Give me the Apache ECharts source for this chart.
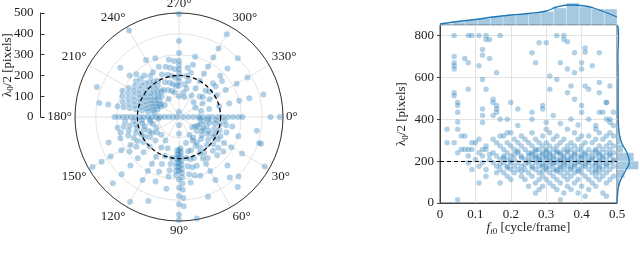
<!DOCTYPE html>
<html><head><meta charset="utf-8">
<script src="https://cdn.jsdelivr.net/npm/echarts@6/dist/echarts.min.js"></script>
<style>html,body{margin:0;padding:0;background:#fff}#c{width:640px;height:255px}</style>
</head><body><div id="c"></div>
<script>
// ---- DATA ----
const radialTicks = [0, 100, 200, 300, 400, 500];
const angleTicks = [0, 30, 60, 90, 120, 150, 180, 210, 240, 270, 300, 330];
const refRadius = 200;           // dashed reference circle / line
// polar points: [angle in degrees, radii (λ0/2)]
const polarRays = [
 [0,[20,45,70,95,115,140,160,185,210,235,260,285,305,440,485]],
 [5,[100,140,180,220]],
 [10,[120,150,175,200,230,260,380]],
 [18,[110,140,180,205,240,300,405,415]],
 [25,[100,130,160,190,220]],
 [30,[90,130,160,190,215,250,290,350,476]],
 [38,[80,110,140,178,210,240,270]],
 [45,[150,190,230,260,330,405]],
 [50,[380,439]],
 [55,[120,150,180,210,240]],
 [60,[100,130,160,200,230,260,300,350]],
 [70,[170,210,250,300,408]],
 [75,[130,170,210,250,290]],
 [80,[200,240,280,320,495]],
 [87,[150,170,190,210,230,250,270,290,320,350,390,430]],
 [90,[40,80,160,180,200,220,240,260,300,340,380,420,470,495]],
 [93,[160,180,200,220,240,260,280]],
 [100,[200,230,260,290,350]],
 [110,[160,200,240,280,330,430]],
 [120,[130,170,220,260,300,350,470]],
 [135,[120,160,200,240,280,330,390,450]],
 [145,[130,170,210,250,290]],
 [150,[150,190,230,270,320,380,430,480]],
 [155,[120,160,200,240]],
 [160,[180,220,260,300,360]],
 [165,[130,170,210,250,290]],
 [170,[140,180,210,240,270,300]],
 [175,[100,140,180,220,260]],
 [180,[10,30,50,70,90,110,130,150,170,190,210,230,250,270,290,310]],
 [190,[120,150,180,210,240,270,300,345,389]],
 [195,[130,160,190,220,250,280]],
 [200,[110,140,170,200,230,260,290,420]],
 [205,[120,150,180,210,240,270,300]],
 [210,[100,130,160,190,220,250,280]],
 [215,[110,140,170,200,230,260]],
 [220,[90,120,150,180,210,240,270,310,368]],
 [225,[140,170,200,230,260,290]],
 [230,[130,160,190,220,260]],
 [235,[150,180,210,240]],
 [240,[100,150,200,250,317,480]],
 [248,[140,180,220,260,305]],
 [255,[130,170,210,250]],
 [260,[120,160,200,240,280]],
 [265,[150,190,230,270]],
 [270,[25,100,150,170,190,210,230,250,270,308,365,495]],
 [280,[120,160,200,240]],
 [285,[100,140,180,220,260,300]],
 [300,[120,160,200,240,280,330,380,460]],
 [315,[100,140,180,230,280,330,400]],
 [320,[150,190,230,270]],
 [330,[90,130,170,210,260,320,380]],
 [345,[110,150,200,250,300,350,420]]
];
// scatter (f_t0, λ0/2): sparse upper points
const scatterUpper = [
 [0.04,800],[0.08,800],[0.09,800],[0.11,800],[0.13,800],[0.13,781],[0.14,781],[0.17,800],[0.33,800],[0.35,800],
 [0.35,781],[0.36,770],[0.28,765],[0.30,765],[0.38,718],[0.41,740],[0.41,720],[0.45,718],[0.26,718],[0.27,670],
 [0.34,670],[0.40,670],[0.40,640],[0.43,655],[0.04,700],[0.04,670],[0.04,655],[0.04,640],[0.07,690],[0.08,670],
 [0.11,655],[0.12,733],[0.12,705],[0.14,690],[0.16,622],[0.36,640],[0.38,622],[0.31,606],[0.33,590],[0.37,559],
 [0.41,559],[0.42,543],[0.45,575],[0.45,527],[0.48,559],[0.04,527],[0.04,512],[0.08,543],[0.12,590],[0.13,543],
 [0.31,543],[0.36,527],[0.38,495],[0.15,495],[0.15,480],[0.16,465],[0.16,449],[0.16,433],[0.05,480],[0.05,465],
 [0.05,433],[0.12,449],[0.12,418],[0.15,418],[0.20,480],[0.22,449],[0.26,433],[0.29,465],[0.29,449],[0.32,418],
 [0.40,465],[0.40,433],[0.45,433],[0.46,433],[0.47,480],[0.47,480],[0.47,400],[0.48,400],[0.49,433],[0.17,400],
 [0.19,400],[0.26,400],[0.12,385],[0.37,400],[0.42,400],[0.05,387],[0.30,385],[0.44,370],[0.34,380],[0.39,372],
 [0.22,370],[0.49,370],[0.48,385]
];
// scatter dense region: [λ0/2, list of f_t0]
const scatterRows = [
 [352,[0.02,0.05,0.30,0.36,0.44]],
 [336,[0.19,0.20,0.26,0.31,0.38,0.45,0.48]],
 [320,[0.06,0.07,0.17,0.18,0.23,0.29,0.33,0.40,0.42,0.47,0.49]],
 [304,[0.11,0.15,0.21,0.24,0.27,0.32,0.35,0.39,0.44,0.46]],
 [288,[0.02,0.04,0.09,0.10,0.16,0.19,0.22,0.25,0.28,0.30,0.34,0.37,0.41,0.43,0.48]],
 [272,[0.13,0.17,0.20,0.23,0.26,0.29,0.31,0.33,0.36,0.38,0.40,0.45,0.47,0.49]],
 [256,[0.06,0.07,0.08,0.09,0.12,0.13,0.18,0.21,0.24,0.27,0.28,0.30,0.32,0.35,0.37,0.39,0.42,0.44,0.46,0.48]],
 [248,[0.22,0.27,0.30,0.33,0.36,0.40,0.44]],
 [240,[0.05,0.11,0.15,0.19,0.22,0.25,0.26,0.29,0.31,0.33,0.34,0.36,0.38,0.41,0.43,0.45,0.47,0.49]],
 [232,[0.14,0.21,0.26,0.29,0.31,0.34,0.38,0.41,0.45,0.48]],
 [224,[0.08,0.12,0.16,0.18,0.20,0.23,0.25,0.27,0.28,0.30,0.32,0.35,0.37,0.39,0.40,0.42,0.44,0.46,0.48]],
 [216,[0.18,0.23,0.27,0.30,0.32,0.35,0.37,0.40,0.43,0.46]],
 [208,[0.10,0.14,0.17,0.19,0.21,0.24,0.26,0.28,0.29,0.31,0.33,0.34,0.36,0.38,0.41,0.43,0.45,0.47,0.49]],
 [200,[0.20,0.25,0.28,0.31,0.34,0.36,0.39,0.42,0.45,0.49]],
 [192,[0.08,0.12,0.15,0.18,0.20,0.22,0.25,0.27,0.30,0.32,0.33,0.35,0.37,0.39,0.40,0.42,0.44,0.46,0.48]],
 [184,[0.17,0.24,0.29,0.32,0.35,0.38,0.41,0.44,0.47]],
 [176,[0.11,0.16,0.19,0.21,0.23,0.26,0.28,0.29,0.31,0.34,0.36,0.38,0.41,0.43,0.45,0.47,0.49]],
 [168,[0.19,0.26,0.30,0.34,0.37,0.40,0.45]],
 [160,[0.09,0.13,0.17,0.20,0.22,0.24,0.27,0.30,0.32,0.33,0.35,0.37,0.39,0.42,0.44,0.46,0.48]],
 [152,[0.23,0.29,0.33,0.39,0.44]],
 [144,[0.16,0.18,0.21,0.25,0.28,0.31,0.34,0.36,0.38,0.40,0.43,0.45,0.47]],
 [128,[0.13,0.19,0.23,0.26,0.29,0.32,0.35,0.37,0.41,0.44,0.46,0.49]],
 [112,[0.20,0.24,0.28,0.30,0.33,0.36,0.39,0.42,0.45,0.48]],
 [96,[0.11,0.17,0.27,0.31,0.34,0.38,0.43,0.47]],
 [80,[0.25,0.29,0.32,0.36,0.40,0.44]],
 [64,[0.28,0.33,0.37,0.42]],
 [48,[0.27,0.35,0.39,0.46]],
 [32,[0.41,0.47]],
 [16,[0.05,0.34]]
];
// top marginal histogram of f_t0: [binStart, binEnd, height]
const topHist = [
 [0.0000,0.0357,1],[0.0357,0.0714,3],[0.0714,0.1071,5],[0.1071,0.1429,6.5],[0.1429,0.1786,8.5],
 [0.1786,0.2143,10],[0.2143,0.2500,11],[0.2500,0.2857,12],[0.2857,0.3214,13.5],[0.3214,0.3571,17],
 [0.3571,0.3929,22],[0.3929,0.4286,18],[0.4286,0.4643,16],[0.4643,0.5000,16]
];
const topKde = [[0,1],[0.05,3.5],[0.1,5.5],[0.15,8],[0.2,10],[0.25,11.5],[0.3,14],[0.33,18],[0.37,20],[0.41,19],[0.45,15],[0.5,8]];
// right marginal histogram of λ0/2: [binStart, binEnd, width]
const rightHist = [
 [0,40,1],[40,80,2],[80,120,4],[120,160,10],[160,200,28],[200,240,22],[240,280,8],[280,320,5],[320,360,3],
 [360,400,2],[400,440,2],[440,480,2],[480,520,1.5],[520,560,1.5],[560,600,1],[600,640,1],[640,680,1.5],
 [680,720,1],[720,760,1],[760,800,1],[800,840,3]
];
const rightKde = [[0,0],[0.5,30],[2,80],[6,120],[12,160],[16,195],[13,240],[7,280],[3.5,320],[2,370],[1.5,430],[1.5,500],[1.5,600],[1.2,700],[2,790],[1.5,830],[0.5,850]];

// ---- BUILD ----
const polarData = [];
polarRays.forEach(([a, rs]) => rs.forEach(r => polarData.push([r, a])));
const scatterData = scatterUpper.slice();
scatterRows.forEach(([y, xs]) => xs.forEach(x => scatterData.push([x, y])));

const FONT = "'Liberation Serif','DejaVu Serif',serif";
const TXT = '#222';
const AX = '#333';
const GRIDC = '#dcdcdc';
const PT = 'rgba(31,119,180,0.42)';
const HIST = 'rgba(31,119,180,0.4)';
const LINE = '#1f77b4';
const CX = 179, CY = 117, R = 104, RMAX = 500;

const chart = echarts.init(document.getElementById('c'), null, {renderer: 'canvas'});
const lab = {fontFamily: FONT, fontSize: 13, color: TXT};
const nameRich = {s: {fontFamily: FONT, fontSize: 9, color: TXT, padding: [7, 0, 0, 0]},
                  i: {fontFamily: FONT, fontSize: 13, fontStyle: 'italic', color: TXT},
                  si: {fontFamily: FONT, fontSize: 9, fontStyle: 'italic', color: TXT, padding: [7, 0, 0, 0]}};

chart.setOption({
  animation: false,
  polar: [
    {center: [CX, CY], radius: R},
    {center: [CX, CY], radius: R * refRadius / RMAX}
  ],
  angleAxis: [
    {polarIndex: 0, type: 'value', min: 0, max: 360, interval: 30, startAngle: 0, clockwise: true,
     axisLine: {lineStyle: {color: AX, width: 1}}, axisTick: {show: false},
     axisLabel: Object.assign({margin: 3, formatter: v => (v >= 360 ? '' : v + '°')}, lab),
     splitLine: {show: true, lineStyle: {color: GRIDC, width: 0.8}}},
    {polarIndex: 1, type: 'value', min: 0, max: 360, startAngle: 0, z: 5,
     axisLine: {lineStyle: {color: '#000', width: 1.3, type: [4, 3]}}, axisTick: {show: false},
     axisLabel: {show: false}, splitLine: {show: false}}
  ],
  radiusAxis: [
    {polarIndex: 0, type: 'value', min: 0, max: RMAX, interval: 100,
     axisLine: {show: false}, axisTick: {show: false}, axisLabel: {show: false},
     splitLine: {show: true, lineStyle: {color: GRIDC, width: 0.8}}},
    {polarIndex: 1, type: 'value', min: 0, max: 1, show: false}
  ],
  grid: [
    {left: 40, top: CY - R, width: 1, height: R},
    {left: 440, top: 25, width: 177, height: 178, show: true, borderColor: '#444', borderWidth: 1, backgroundColor: 'transparent'},
    {left: 440, top: 3, width: 177, height: 22},
    {left: 617, top: 25, width: 30, height: 178}
  ],
  xAxis: [
    {gridIndex: 0, type: 'value', show: false},
    {gridIndex: 1, type: 'value', min: 0, max: 0.5, interval: 0.1,
     axisLine: {lineStyle: {color: '#444'}}, axisTick: {show: false},
     axisLabel: Object.assign({margin: 5}, lab),
     splitLine: {show: true, lineStyle: {color: GRIDC, width: 0.8}},
     name: '{i|f}{si|t}{s|0} [cycle/frame]', nameLocation: 'middle', nameGap: 17, nameMoveOverlap: false,
     nameTextStyle: Object.assign({rich: nameRich}, lab)},
    {gridIndex: 2, type: 'value', min: 0, max: 0.5, show: false},
    {gridIndex: 3, type: 'value', min: 0, max: 30, show: false}
  ],
  yAxis: [
    {gridIndex: 0, type: 'value', min: 0, max: RMAX, interval: 100, position: 'left',
     axisLine: {show: true, lineStyle: {color: AX}}, axisTick: {show: true, inside: true, length: 4, lineStyle: {color: AX}},
     axisLabel: Object.assign({margin: 7}, lab), splitLine: {show: false},
     name: 'λ{s|0}/2 [pixels]', nameLocation: 'middle', nameGap: 25, nameMoveOverlap: false,
     nameTextStyle: Object.assign({rich: nameRich}, lab)},
    {gridIndex: 1, type: 'value', min: 0, max: 850, interval: 200,
     axisLine: {lineStyle: {color: '#444'}}, axisTick: {show: true, length: 3, lineStyle: {color: '#444'}},
     axisLabel: Object.assign({margin: 6, showMaxLabel: false, formatter: v => (v % 200 === 0 ? String(v) : '')}, lab),
     splitLine: {show: true, lineStyle: {color: GRIDC, width: 0.8}},
     name: 'λ{s|0}/2 [pixels]', nameLocation: 'middle', nameGap: 30, nameMoveOverlap: false,
     nameTextStyle: Object.assign({rich: nameRich}, lab)},
    {gridIndex: 2, type: 'value', min: 0, max: 22, show: false},
    {gridIndex: 3, type: 'value', min: 0, max: 850, show: false}
  ],
  series: [
    {type: 'scatter', coordinateSystem: 'polar', polarIndex: 0, data: polarData, symbolSize: 6,
     itemStyle: {color: PT}, z: 2},
    {type: 'scatter', xAxisIndex: 1, yAxisIndex: 1, data: scatterData, symbolSize: 5.5,
     itemStyle: {color: PT}, z: 2,
     markLine: {silent: true, symbol: 'none', label: {show: false},
       lineStyle: {color: '#000', width: 1.2, type: [4, 3]}, data: [{yAxis: refRadius}]}},
    {type: 'custom', xAxisIndex: 2, yAxisIndex: 2, data: topHist,
     renderItem: (p, api) => {
       const a = api.coord([api.value(0), api.value(2)]);
       const b = api.coord([api.value(1), 0]);
       return {type: 'rect', shape: {x: a[0], y: a[1], width: b[0] - a[0], height: b[1] - a[1]},
               style: {fill: HIST, stroke: 'rgba(255,255,255,0.6)', lineWidth: 0.5}};
     }},
    {type: 'line', xAxisIndex: 2, yAxisIndex: 2, data: topKde, smooth: true, showSymbol: false,
     lineStyle: {color: LINE, width: 1.3}, z: 3},
    {type: 'custom', xAxisIndex: 3, yAxisIndex: 3, data: rightHist,
     renderItem: (p, api) => {
       const a = api.coord([0, api.value(1)]);
       const b = api.coord([api.value(2), api.value(0)]);
       return {type: 'rect', shape: {x: a[0], y: a[1], width: b[0] - a[0], height: b[1] - a[1]},
               style: {fill: HIST, stroke: 'rgba(255,255,255,0.6)', lineWidth: 0.5}};
     }},
    {type: 'line', xAxisIndex: 3, yAxisIndex: 3, data: rightKde, smooth: true, showSymbol: false,
     lineStyle: {color: LINE, width: 1.3}, z: 3}
  ]
});
</script></body></html>
